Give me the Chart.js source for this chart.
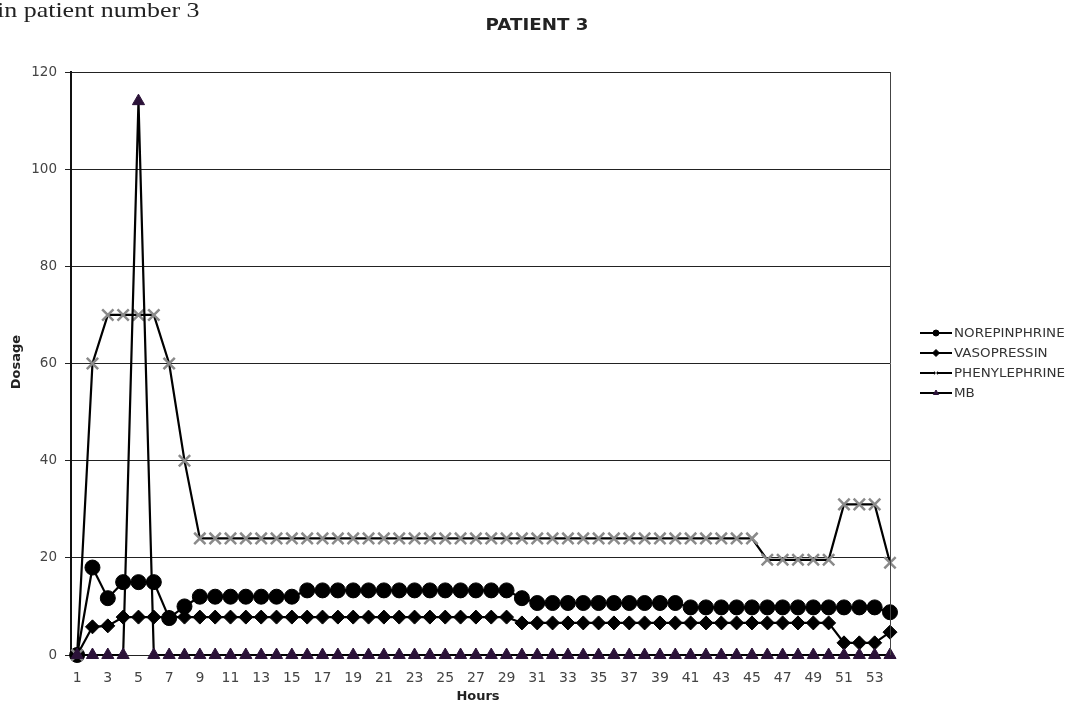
<!DOCTYPE html>
<html>
<head>
<meta charset="utf-8">
<script src="https://cdn.jsdelivr.net/npm/chart.js@4.4.0/dist/chart.umd.min.js"></script>
<style>
  html, body { margin: 0; padding: 0; background: #fff; }
  #wrap { position: relative; width: 1072px; height: 706px; overflow: hidden; }
  #note { position: absolute; left: -3px; top: -3px; font: 22px "Liberation Serif", serif; color: #222; white-space: nowrap; transform: scaleX(1.18); transform-origin: 0 0; }
</style>
</head>
<body>
<div id="wrap">
  <canvas id="chart" width="1072" height="706"></canvas>
  <div id="note">in patient number 3</div>
</div>
<script>
(function () {
    "use strict";

    // data
    const hours = [
        1, 2, 3, 4, 5, 6, 7, 8, 9, 10, 11, 12, 13, 14, 15, 16, 17, 18,
        19, 20, 21, 22, 23, 24, 25, 26, 27, 28, 29, 30, 31, 32, 33, 34, 35, 36,
        37, 38, 39, 40, 41, 42, 43, 44, 45, 46, 47, 48, 49, 50, 51, 52, 53, 54,
    ];
    const hourTicks = [1, 3, 5, 7, 9, 11, 13, 15, 17, 19, 21, 23, 25, 27, 29, 31, 33, 35, 37, 39, 41, 43, 45, 47, 49, 51, 53];
    const norepinephrine = [
        0, 18, 11.7, 15, 15, 15, 7.6, 10,
        12, 12, 12, 12, 12, 12, 12,
        13.3, 13.3, 13.3, 13.3, 13.3, 13.3, 13.3, 13.3, 13.3, 13.3, 13.3, 13.3, 13.3, 13.3,
        11.7,
        10.7, 10.7, 10.7, 10.7, 10.7, 10.7, 10.7, 10.7, 10.7, 10.7,
        9.8, 9.8, 9.8, 9.8, 9.8, 9.8, 9.8, 9.8, 9.8, 9.8, 9.8, 9.8, 9.8,
        8.8,
    ];
    const vasopressin = [
        0, 5.8, 6, 7.8,
        7.8, 7.8, 7.8, 7.8, 7.8, 7.8, 7.8, 7.8, 7.8, 7.8, 7.8, 7.8, 7.8,
        7.8, 7.8, 7.8, 7.8, 7.8, 7.8, 7.8, 7.8, 7.8, 7.8, 7.8, 7.8,
        6.6, 6.6, 6.6, 6.6, 6.6, 6.6, 6.6, 6.6, 6.6, 6.6, 6.6,
        6.6, 6.6, 6.6, 6.6, 6.6, 6.6, 6.6, 6.6, 6.6, 6.6,
        2.5, 2.5, 2.5, 4.7,
    ];
    const phenylephrine = [
        0, 60, 70, 70, 70, 70, 60, 40,
        24, 24, 24, 24, 24, 24, 24, 24, 24, 24, 24, 24, 24, 24, 24, 24, 24, 24, 24,
        24, 24, 24, 24, 24, 24, 24, 24, 24, 24, 24, 24, 24, 24, 24, 24, 24, 24,
        19.6, 19.6, 19.6, 19.6, 19.6,
        31, 31, 31, 19,
    ];
    const mb = [
        0, 0, 0, 0, 114, 0, 0, 0, 0, 0, 0, 0, 0, 0, 0, 0, 0, 0,
        0, 0, 0, 0, 0, 0, 0, 0, 0, 0, 0, 0, 0, 0, 0, 0, 0, 0,
        0, 0, 0, 0, 0, 0, 0, 0, 0, 0, 0, 0, 0, 0, 0, 0, 0, 0,
    ];
    const dosageTicks = [0, 20, 40, 60, 80, 100, 120];

    const pts = (vals) => vals.map((v, i) => ({ x: hours[i], y: v }));

    const mkSet = (label, vals, style, radius, fill, border, bw, order) => ({
        label: label,
        data: pts(vals),
        borderColor: "#000",
        borderWidth: 2.2,
        pointStyle: style,
        pointRadius: radius,
        pointBackgroundColor: fill,
        pointBorderColor: border,
        pointBorderWidth: bw,
        tension: 0,
        clip: false,
        order: order,
    });

    // legend + titles drawn by hand, excel style
    const extras = {
        id: "extras",
        afterDraw(chart) {
            const ctx = chart.ctx;
            const area = chart.chartArea;
            ctx.save();
            // right border of plot
            ctx.strokeStyle = "#444";
            ctx.lineWidth = 1;
            ctx.beginPath();
            ctx.moveTo(area.right + 0.5, area.top);
            ctx.lineTo(area.right + 0.5, area.bottom);
            ctx.stroke();

            ctx.fillStyle = "#222";
            ctx.textAlign = "center";
            ctx.textBaseline = "middle";
            ctx.save();
            ctx.translate(537, 26);
            ctx.scale(1.14, 1);
            ctx.font = "bold 16px 'DejaVu Sans'";
            ctx.fillText("PATIENT 3", 0, 0);
            ctx.restore();
            ctx.font = "bold 13px 'DejaVu Sans'";
            ctx.fillText("Hours", 478, 697);
            ctx.translate(17, 362);
            ctx.rotate(-Math.PI / 2);
            ctx.fillText("Dosage", 0, 0);
            ctx.restore();

            const rows = [333, 353, 373, 393];
            chart.data.datasets.forEach((ds, i) => {
                const y = rows[i];
                ctx.save();
                ctx.strokeStyle = "#000";
                ctx.lineWidth = 2;
                ctx.beginPath();
                ctx.moveTo(920, y);
                ctx.lineTo(952, y);
                ctx.stroke();
                ctx.fillStyle = ds.pointBackgroundColor;
                ctx.strokeStyle = ds.pointBorderColor;
                ctx.lineWidth = 1;
                Chart.helpers.drawPoint(ctx, {
                    pointStyle: ds.pointStyle,
                    radius: ds.pointStyle === "rectRot" ? 3.5 : 3,
                    borderWidth: 1,
                    rotation: 0,
                }, 936, y);
                ctx.fillStyle = "#333";
                ctx.font = "12px 'DejaVu Sans'";
                ctx.textAlign = "left";
                ctx.textBaseline = "middle";
                ctx.translate(954, y + 1);
                ctx.scale(1.12, 1);
                ctx.fillText(ds.label, 0, 0);
                ctx.restore();
            });
        },
    };

    new Chart(document.getElementById("chart"), {
        type: "line",
        data: {
            datasets: [
                mkSet("NOREPINPHRINE", norepinephrine, "circle", 7.5, "#000", "#000", 1, 4),
                mkSet("VASOPRESSIN", vasopressin, "rectRot", 7, "#000", "#000", 1, 3),
                mkSet("PHENYLEPHRINE", phenylephrine, "crossRot", 8, "rgba(0,0,0,0)", "#8a8a8a", 2.5, 2),
                mkSet("MB", mb, "triangle", 7, "#2b1238", "#2b1238", 1, 1),
            ],
        },
        options: {
            responsive: false,
            animation: false,
            layout: {
                padding: { top: 72, right: 182, left: 0, bottom: 0 },
            },
            plugins: {
                legend: { display: false },
                tooltip: { enabled: false },
            },
            scales: {
                x: {
                    type: "linear",
                    min: 0.6,
                    max: 54,
                    afterBuildTicks: (scale) => {
                        scale.ticks = hourTicks.map((v) => ({ value: v }));
                    },
                    afterFit: (scale) => {
                        scale.height = 51;
                    },
                    ticks: {
                        autoSkip: false,
                        maxRotation: 0,
                        padding: 7,
                        color: "#444",
                        font: { family: "DejaVu Sans", size: 14 },
                    },
                    grid: { display: false },
                    border: { display: false },
                },
                y: {
                    min: 0,
                    max: 120,
                    afterBuildTicks: (scale) => {
                        scale.ticks = dosageTicks.map((v) => ({ value: v }));
                    },
                    afterFit: (scale) => {
                        scale.width = 71;
                    },
                    ticks: {
                        padding: 8,
                        color: "#444",
                        font: { family: "DejaVu Sans", size: 13.5 },
                    },
                    grid: {
                        color: "#222",
                        lineWidth: 1,
                        tickLength: 6,
                    },
                    border: {
                        color: "#111",
                        width: 2,
                    },
                },
            },
        },
        plugins: [extras],
    });
})();
</script>
</body>
</html>
